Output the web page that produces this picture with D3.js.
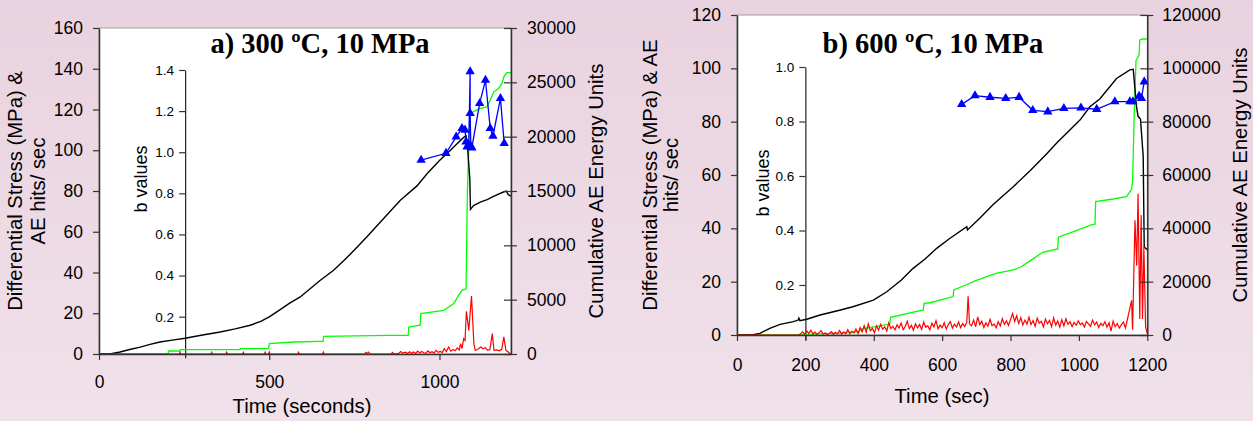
<!DOCTYPE html>
<html>
<head>
<meta charset="utf-8">
<script src="https://cdn.jsdelivr.net/npm/d3@7"></script>
<style>
  body { margin: 0; }
  svg text { font-family: "Liberation Sans", Arial, sans-serif; fill: #000; }
</style>
</head>
<body>
<script>
(function () {
  'use strict';

  // ---- panel a) 300 ºC ----
  const titleA = 'a) 300 \u00baC, 10 MPa';
  const timeTicksA = [0, 500, 1000];
  const stressTicksA = [0, 20, 40, 60, 80, 100, 120, 140, 160];
  const energyTicksA = [0, 5000, 10000, 15000, 20000, 25000, 30000];
  const bTicksA = [0.2, 0.4, 0.6, 0.8, 1.0, 1.2, 1.4];

  // differential stress (MPa) vs time (s)
  const stressA = [
    [0, 0], [32, 0], [62, 1.0], [90, 2.2], [121, 3.4], [150, 4.7], [179, 5.9], [215, 6.8],
    [253, 7.7], [300, 9.2], [356, 10.8], [400, 12.3], [444, 14.1], [475, 16.0], [500, 18.2],
    [530, 21.5], [560, 25.0], [591, 28.0], [620, 32.0], [650, 36.2], [689, 41.1], [720, 46.0],
    [750, 51.0], [787, 57.5], [836, 66.5], [885, 75.5], [934, 82.5], [964, 88.6], [1000, 95.0],
    [1032, 100.0], [1050, 103.0], [1071, 106.3], [1078, 107.0], [1083, 100.0], [1089, 86.0],
    [1091, 71.0], [1100, 72.8], [1120, 74.5], [1140, 75.8], [1154, 77.0], [1170, 78.2],
    [1188, 79.5], [1196, 80.0], [1202, 78.2], [1210, 77.5]
  ];
  // AE hits / sec
  const hitsA = [
    [0, 0], [236, 0], [238, 0.8], [240, 0], [329, 0], [331, 0.8], [333, 0], [373, 0], [375, 0.9],
    [377, 0], [422, 0], [424, 0.8], [426, 0], [486, 0], [488, 0.9], [490, 0], [498, 0], [500, 1.0],
    [502, 0], [584, 0], [586, 0.8], [588, 0], [657, 0], [659, 0.9], [661, 0], [780, 0], [784, 0.8],
    [788, 0.3], [792, 0.9], [796, 0], [858, 0], [862, 0.8], [866, 0], [880, 0.3], [886, 1.2],
    [892, 0.4], [900, 0.9], [906, 0.2], [912, 1.1], [918, 0.4], [924, 1.0], [930, 0.3], [936, 1.4],
    [942, 0.5], [948, 1.2], [954, 0.6], [960, 0.4], [966, 1.5], [972, 0.6], [978, 1.1], [984, 0.5],
    [990, 1.8], [996, 0.8], [1002, 1.3], [1008, 0.7], [1014, 2.6], [1020, 1.2], [1027, 3.4],
    [1033, 1.4], [1040, 2.2], [1046, 1.6], [1052, 3.0], [1058, 2.0], [1062, 5.1], [1066, 2.6],
    [1071, 7.5], [1075, 6.6], [1079, 21.0], [1086, 11.6], [1094, 28.5], [1101, 5.0], [1105, 1.8],
    [1112, 2.2], [1121, 3.4], [1128, 2.6], [1135, 3.1], [1141, 1.8], [1148, 2.2], [1155, 10.0],
    [1160, 1.8], [1168, 2.0], [1176, 1.6], [1183, 2.4], [1189, 8.4], [1195, 1.8], [1202, 1.0],
    [1206, 0.3], [1210, 0]
  ];
  // cumulative AE energy units
  const energyA = [
    [0, 0], [203, 0], [204, 276], [238, 276], [239, 405], [414, 405], [415, 497], [498, 497],
    [500, 957], [571, 1104], [650, 1170], [658, 1170], [660, 1630], [850, 1720], [908, 1720],
    [910, 2485], [938, 2640], [943, 2640], [945, 3717], [1013, 4020], [1027, 4325], [1042, 4640],
    [1056, 5400], [1066, 5860], [1078, 6000], [1082, 15000], [1089, 22100], [1100, 22300],
    [1120, 22600], [1139, 22730], [1149, 23350], [1159, 24110], [1173, 24420], [1183, 24880],
    [1190, 25580], [1198, 25900], [1210, 25900]
  ];
  // b values
  const bA = [
    [946, 0.962], [1019, 0.995], [1049, 1.075], [1066, 1.116], [1075, 1.108], [1078, 1.051],
    [1081, 1.027], [1086, 1.035], [1090, 1.392], [1090, 1.189], [1092, 1.030], [1095, 1.022],
    [1118, 1.238], [1135, 1.351], [1149, 1.116], [1157, 1.079], [1179, 1.262], [1190, 1.043]
  ];

  // ---- panel b) 600 ºC ----
  const titleB = 'b) 600 \u00baC, 10 MPa';
  const timeTicksB = [0, 200, 400, 600, 800, 1000, 1200];
  const stressTicksB = [0, 20, 40, 60, 80, 100, 120];
  const energyTicksB = [0, 20000, 40000, 60000, 80000, 100000, 120000];
  const bTicksB = [0.2, 0.4, 0.6, 0.8, 1.0];

  const stressB = [
    [0, 0], [43, 0], [67, 0.6], [96, 2.5], [126, 4.0], [165, 5.0], [179, 5.6], [181, 6.3],
    [184, 5.4], [204, 5.9], [243, 7.5], [300, 9.3], [339, 10.6], [399, 13.1], [438, 16.2],
    [480, 20.5], [515, 25.0], [550, 28.5], [584, 32.5], [620, 36.0], [672, 40.6], [674, 39.4],
    [710, 43.8], [750, 49.0], [808, 55.6], [860, 62.0], [906, 68.0], [935, 72.0], [1003, 80.6],
    [1032, 85.6], [1061, 88.5], [1110, 96.2], [1149, 99.4], [1159, 99.6], [1168, 86.0],
    [1173, 82.0], [1180, 81.0], [1188, 67.0], [1191, 33.0], [1200, 32.0]
  ];
  const hitsB = [
    [0, 0], [180, 0], [186, 0.5], [192, 1.2], [198, 0.3], [204, 1.5], [210, 0.6], [216, 1.8],
    [222, 0.4], [228, 1.1], [234, 0.2], [240, 0.9], [246, 1.6], [252, 0.3], [258, 0.8], [264, 0],
    [270, 0.6], [276, 1.3], [282, 0.2], [288, 1.0], [294, 0.4], [300, 1.7], [306, 0.3], [312, 1.2],
    [318, 0.5], [324, 2.0], [330, 0.4], [336, 1.4], [342, 0.8], [348, 2.2], [354, 0.6], [360, 2.8],
    [366, 1.2], [372, 3.5], [378, 1.0], [384, 4.2], [390, 1.6], [396, 2.5], [402, 0.8], [408, 3.4],
    [414, 1.9], [420, 4.0], [426, 2.2], [432, 3.1], [438, 1.5], [444, 4.6], [450, 2.4], [456, 3.3],
    [462, 1.9], [468, 3.8], [474, 2.6], [480, 4.5], [486, 2.0], [492, 3.2], [498, 5.2], [504, 2.4],
    [510, 3.6], [516, 1.8], [522, 4.2], [528, 2.7], [534, 3.9], [540, 2.1], [546, 4.8], [552, 2.9],
    [558, 3.5], [564, 1.9], [570, 4.4], [576, 3.0], [582, 5.4], [588, 2.3], [594, 3.7], [600, 2.8],
    [606, 4.6], [612, 2.2], [618, 3.9], [624, 5.0], [630, 2.6], [636, 4.1], [642, 3.0], [648, 4.9],
    [654, 2.7], [660, 4.3], [666, 3.2], [672, 4.8], [676, 14.5], [680, 4.2], [686, 3.4], [692, 5.6],
    [698, 3.1], [704, 6.8], [710, 3.9], [716, 5.2], [722, 2.8], [728, 4.6], [734, 3.3], [740, 5.9],
    [746, 3.5], [752, 4.1], [758, 2.7], [764, 5.0], [770, 3.4], [776, 6.1], [782, 4.0], [788, 5.3],
    [794, 3.6], [800, 5.8], [806, 8.0], [812, 5.1], [818, 7.2], [824, 4.3], [830, 6.5], [836, 3.8],
    [842, 5.6], [848, 4.1], [854, 6.7], [860, 3.9], [866, 5.4], [872, 3.2], [878, 6.3], [884, 4.4],
    [890, 5.1], [896, 3.0], [902, 6.0], [908, 4.2], [914, 5.5], [920, 3.1], [926, 6.4], [932, 3.7],
    [938, 5.2], [944, 2.9], [950, 5.8], [956, 3.4], [962, 6.1], [968, 4.0], [974, 5.0], [980, 3.2],
    [986, 4.7], [992, 3.6], [998, 5.3], [1004, 3.9], [1010, 4.5], [1016, 3.0], [1022, 5.1],
    [1028, 4.2], [1034, 3.3], [1040, 5.6], [1046, 3.8], [1052, 4.9], [1058, 2.8], [1064, 4.4],
    [1070, 3.5], [1076, 5.0], [1082, 2.9], [1088, 4.6], [1094, 1.5], [1100, 5.2], [1106, 3.1],
    [1112, 4.3], [1118, 2.6], [1124, 3.8], [1130, 4.9], [1136, 2.7], [1142, 6.0], [1148, 9.4],
    [1154, 13.0], [1157, 2.0], [1164, 43.0], [1169, 26.0], [1173, 53.0], [1178, 6.0],
    [1182, 45.0], [1186, 6.0], [1190, 33.0], [1195, 3.0], [1200, 0.5]
  ];
  const energyB = [
    [0, 0], [184, 0], [230, 300], [300, 700], [358, 1250], [360, 2140], [447, 4100], [449, 6600],
    [545, 9400], [547, 11900], [565, 12100], [632, 14400], [634, 16900], [669, 18750],
    [700, 20500], [757, 23100], [808, 24400], [830, 25500], [857, 27800], [894, 31000],
    [938, 32300], [940, 36700], [982, 38700], [1040, 41500], [1047, 41600], [1049, 50000],
    [1100, 51000], [1139, 51900], [1154, 54600], [1157, 58100], [1162, 84000], [1167, 103000],
    [1176, 105000], [1178, 110600], [1186, 111000], [1200, 111000]
  ];
  const bB = [
    [657, 0.863], [696, 0.895], [740, 0.889], [786, 0.885], [825, 0.889], [865, 0.841],
    [909, 0.836], [956, 0.848], [1006, 0.850], [1052, 0.845], [1105, 0.873], [1149, 0.873],
    [1158, 0.873], [1176, 0.893], [1183, 0.885], [1191, 0.946]
  ];

  const W = 1253, H = 421;

  const svg = d3.select('body')
    .append('svg')
    .attr('width', W)
    .attr('height', H);

  const grad = svg.append('defs').append('linearGradient')
    .attr('id', 'bg').attr('x1', 0).attr('y1', 0).attr('x2', 0).attr('y2', 1);
  grad.append('stop').attr('offset', '0%').attr('stop-color', '#e9d2df');
  grad.append('stop').attr('offset', '100%').attr('stop-color', '#f0e1ea');

  svg.append('rect').attr('width', W).attr('height', H).attr('fill', 'url(#bg)');

  const intFmt = d3.format('d');

  function styleAxis(g, size) {
    g.attr('font-family', null).attr('font-size', null);
    g.select('.domain').attr('stroke', '#333').attr('stroke-width', 1.5);
    g.selectAll('.tick line').attr('stroke', '#333').attr('stroke-width', 1.2);
    g.selectAll('.tick text').style('font-size', size + 'px');
  }

  function drawPanel(c) {
    const x = d3.scaleLinear().domain([0, c.tMax]).range([c.left, c.right]);
    const y = d3.scaleLinear().domain([0, c.sMax]).range([c.bottom, c.top]);
    const yE = d3.scaleLinear().domain([0, c.eMax]).range([c.bottom, c.top]);
    const yB = d3.scaleLinear().domain([0, c.bMax]).range([c.bZero, c.bTop]);

    const g = svg.append('g');

    g.append('rect')
      .attr('x', c.left).attr('y', c.top)
      .attr('width', c.right - c.left).attr('height', c.bottom - c.top)
      .attr('fill', '#fff').attr('stroke', '#a0a0a0');

    // inner b-value axis
    const bx = g.append('g')
      .attr('transform', `translate(${x(c.bAt)},0)`)
      .call(d3.axisLeft(yB).tickValues(c.bTicks).tickFormat(d3.format('.1f'))
        .tickSize(6).tickSizeOuter(0).tickPadding(5));
    styleAxis(bx, 13.5);
    bx.select('.domain').attr('stroke', '#222').attr('stroke-width', 1.2);

    const line = ys => d3.line().x(d => x(d[0])).y(d => ys(d[1]));

    g.append('path').datum(c.energy).attr('d', line(yE))
      .attr('fill', 'none').attr('stroke', '#00ff00').attr('stroke-width', 1.3);
    g.append('path').datum(c.stress).attr('d', line(y))
      .attr('fill', 'none').attr('stroke', '#000').attr('stroke-width', 1.4);
    g.append('path').datum(c.hits).attr('d', line(y))
      .attr('fill', 'none').attr('stroke', '#ff0000').attr('stroke-width', 1.2);
    g.append('path').datum(c.b).attr('d', line(yB))
      .attr('fill', 'none').attr('stroke', '#0000ff').attr('stroke-width', 1.3);
    g.selectAll('.tri').data(c.b).enter().append('path')
      .attr('transform', d => `translate(${x(d[0])},${yB(d[1])})`)
      .attr('d', d3.symbol(d3.symbolTriangle, 38))
      .attr('fill', '#0000ff');

    // axes
    const ax = g.append('g')
      .attr('transform', `translate(0,${c.bottom})`)
      .call(d3.axisBottom(x).tickValues(c.tTicks).tickFormat(intFmt)
        .tickSize(6).tickSizeOuter(0).tickPadding(c.xPad));
    styleAxis(ax, 17.5);

    const ay = g.append('g')
      .attr('transform', `translate(${c.left},0)`)
      .call(d3.axisLeft(y).tickValues(c.sTicks).tickFormat(intFmt)
        .tickSize(6).tickSizeOuter(0).tickPadding(10));
    styleAxis(ay, 17.5);

    const ae = g.append('g')
      .attr('transform', `translate(${c.right},0)`)
      .call(d3.axisRight(yE).tickValues(c.eTicks).tickFormat(intFmt)
        .tickSize(6).tickSizeOuter(0).tickPadding(c.rPad));
    styleAxis(ae, 17.5);
    ae.selectAll('.tick line').attr('x1', -7);

    // titles
    g.append('text')
      .attr('x', c.titleX).attr('y', 53)
      .attr('text-anchor', 'middle')
      .style('font-family', '"Liberation Serif", "Times New Roman", serif')
      .style('font-weight', 'bold').style('font-size', '28.5px')
      .text(c.title);

    g.append('text')
      .attr('x', c.xTitleX).attr('y', c.xTitleY)
      .attr('text-anchor', 'middle').style('font-size', '20.3px')
      .text(c.xTitle);

    const midY = (c.top + c.bottom) / 2;
    c.yTitle.forEach((t, i) => {
      g.append('text')
        .attr('transform', `translate(${c.yTitleX[i]},${midY}) rotate(-90)`)
        .attr('text-anchor', 'middle').style('font-size', '20.3px')
        .text(t);
    });

    g.append('text')
      .attr('transform', `translate(${c.eTitleX},${midY}) rotate(-90)`)
      .attr('text-anchor', 'middle').style('font-size', '20.3px')
      .text('Cumulative AE Energy Units');

    g.append('text')
      .attr('transform', `translate(${c.bTitleX},${c.bTitleY}) rotate(-90)`)
      .attr('text-anchor', 'middle').style('font-size', '18px')
      .text('b values');
  }

  drawPanel({
    left: 99, right: 511, top: 28, bottom: 354,
    tMax: 1210, sMax: 160, eMax: 30000, bMax: 1.4, bZero: 357.8, bTop: 70, bAt: 253,
    tTicks: timeTicksA, sTicks: stressTicksA, eTicks: energyTicksA, bTicks: bTicksA,
    stress: stressA, hits: hitsA, energy: energyA, b: bA,
    xPad: 16, rPad: 10,
    title: titleA, titleX: 320,
    xTitle: 'Time (seconds)', xTitleX: 302, xTitleY: 413,
    yTitle: ['Differential Stress (MPa) &', 'AE hits/ sec'], yTitleX: [22, 45],
    eTitleX: 603, bTitleX: 147, bTitleY: 179
  });

  drawPanel({
    left: 737, right: 1147.3, top: 15, bottom: 335,
    tMax: 1200, sMax: 120, eMax: 120000, bMax: 1.0, bZero: 339.5, bTop: 67, bAt: 200,
    tTicks: timeTicksB, sTicks: stressTicksB, eTicks: energyTicksB, bTicks: bTicksB,
    stress: stressB, hits: hitsB, energy: energyB, b: bB,
    xPad: 18, rPad: 9,
    title: titleB, titleX: 933,
    xTitle: 'Time (sec)', xTitleX: 942, xTitleY: 403,
    yTitle: ['Differential Stress (MPa) & AE', 'hits/ sec'], yTitleX: [657, 678],
    eTitleX: 1247, bTitleX: 769, bTitleY: 183
  });

})();
</script>
</body>
</html>
